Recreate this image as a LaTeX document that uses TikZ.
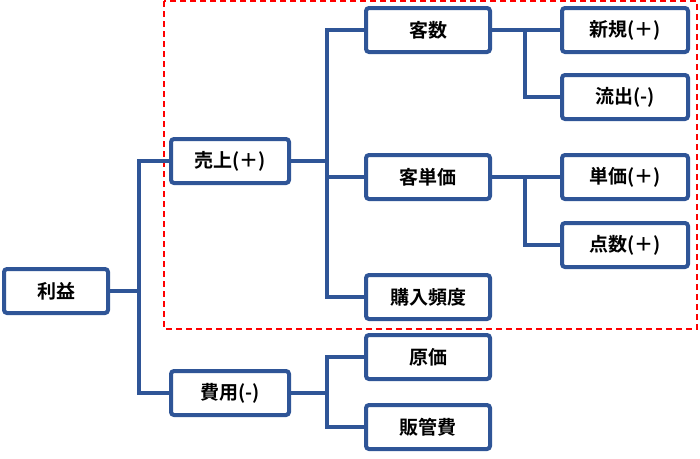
\documentclass[tikz,border=0pt]{standalone}
\usepackage{fontspec}
\newfontfamily\cjk{Noto Sans CJK JP}[BoldFont={* Bold}]
\definecolor{bx}{HTML}{2F5597}
\begin{document}
\begin{tikzpicture}[x=1pt,y=-1pt,
 bxs/.style={draw=bx,line width=4pt,rounded corners=3pt,fill=white,minimum height=44pt,inner sep=0pt,font=\cjk\bfseries\fontsize{19}{22}\selectfont},
 ln/.style={draw=bx,line width=4pt}]
\useasboundingbox (0,0) rectangle (700,458);
\draw[red,dashed,line width=1.5pt,dash pattern=on 6pt off 4pt] (164,1) rectangle (697,329);
\node[bxs,minimum width=104pt] (rieki) at (56,291) {利益};
\node[bxs,minimum width=118pt] (uri) at (230,161) {売上(＋)};
\node[bxs,minimum width=118pt] (hiyo) at (230,393) {費用(-)};
\node[bxs,minimum width=124pt] (kyaku) at (428,30) {客数};
\node[bxs,minimum width=124pt] (tanka) at (428,177) {客単価};
\node[bxs,minimum width=124pt] (hindo) at (428,297) {購入頻度};
\node[bxs,minimum width=124pt] (genka) at (428,357) {原価};
\node[bxs,minimum width=124pt] (hankan) at (428,427) {販管費};
\node[bxs,minimum width=126pt] (shinki) at (625,30) {新規(＋)};
\node[bxs,minimum width=126pt] (ryu) at (625,97) {流出(-)};
\node[bxs,minimum width=126pt] (tan) at (625,177) {単価(＋)};
\node[bxs,minimum width=126pt] (ten) at (625,245) {点数(＋)};
\begin{scope}[on background layer/.style={}]
\draw[ln] (rieki.east) -- (139,291);
\draw[ln] (uri.west) -| (139,393) -- (hiyo.west);
\draw[ln] (uri.east) -- (327,161);
\draw[ln] (kyaku.west) -| (327,297) -- (hindo.west);
\draw[ln] (327,177) -- (tanka.west);
\draw[ln] (hiyo.east) -- (327,393);
\draw[ln] (genka.west) -| (327,427) -- (hankan.west);
\draw[ln] (kyaku.east) -- (525,30);
\draw[ln] (shinki.west) -| (525,97) -- (ryu.west);
\draw[ln] (tanka.east) -- (525,177);
\draw[ln] (tan.west) -| (525,245) -- (ten.west);
\end{scope}
\end{tikzpicture}
\end{document}
